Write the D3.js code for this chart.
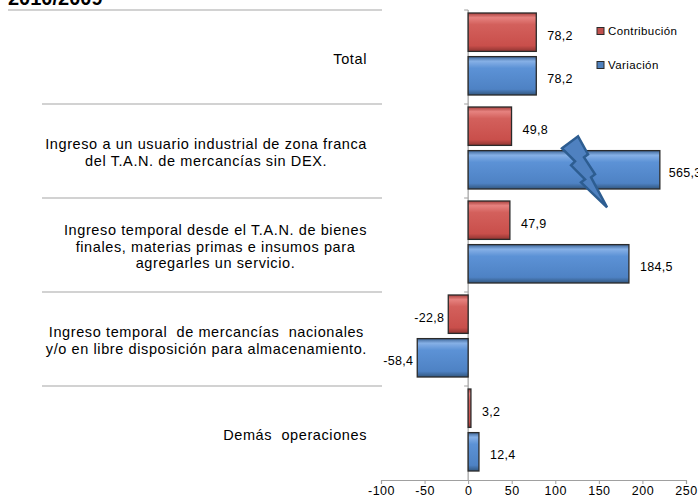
<!DOCTYPE html>
<html>
<head>
<meta charset="utf-8">
<script src="https://cdn.jsdelivr.net/npm/d3@7/dist/d3.min.js"></script>
<style>
  html, body { margin: 0; padding: 0; background: #fff; }
  svg { display: block; font-family: "Liberation Sans", Arial, sans-serif; }
  text { white-space: pre; }
</style>
</head>
<body>
<svg id="chart" width="698" height="500"></svg>
<script>
// ---- data ----
const titleText = "2010/2009";
const categoryLines = [
  ["Total"],
  ["Ingreso a un usuario industrial de zona franca", "del T.A.N. de mercancías sin DEX."],
  ["Ingreso temporal desde el T.A.N. de bienes", "finales, materias primas e insumos para", "agregarles un servicio."],
  ["Ingreso temporal  de mercancías  nacionales", "y/o en libre disposición para almacenamiento."],
  ["Demás  operaciones"]
];
const seriesNames = ["Contribución", "Variación"];
const contribucion = [78.2, 49.8, 47.9, -22.8, 3.2];
const variacion = [78.2, 565.3, 184.5, -58.4, 12.4];
const xTicks = [-100, -50, 0, 50, 100, 150, 200, 250];
const breakValue = 220;   // bars beyond this are drawn broken
const boltValue = 133;    // where the break symbol sits

// ---- layout ----
const svg = d3.select("#chart");
const x = d3.scaleLinear().domain([-100, 250]).range([381, 686]);
const cats = categoryLines.map((d, i) => i);
const y = d3.scaleBand().domain(cats).range([10, 480]).padding(0);
const ys = d3.scaleBand().domain([0, 1]).range([3, 85]).paddingInner(0.12).paddingOuter(0);
const fmt = v => d3.format(".1f")(v).replace(".", ",").replace("\u2212", "-");

const defs = svg.append("defs");
function grad(id, stops) {
  const g = defs.append("linearGradient").attr("id", id).attr("x1", 0).attr("y1", 0).attr("x2", 0).attr("y2", 1);
  stops.forEach(s => g.append("stop").attr("offset", s[0]).attr("stop-color", s[1]));
}
grad("gRed", [[0, "#a8403d"], [0.12, "#e6827f"], [0.3, "#d3605c"], [0.85, "#c94f4b"], [1, "#8f3431"]]);
grad("gBlue", [[0, "#3d6699"], [0.12, "#86b0e6"], [0.3, "#5c92d6"], [0.85, "#4e82c4"], [1, "#32577f"]]);
const fills = ["url(#gRed)", "url(#gBlue)"];
const legendFill = ["#c0504d", "#4f81bd"];

// title
svg.append("text").attr("x", 8).attr("y", 4.5)
  .attr("font-size", 20).attr("font-weight", "bold").attr("fill", "#000")
  .text(titleText);

// category separator lines
const sepY = d3.range(cats.length).map(i => y(i));
svg.append("line").attr("x1", 8).attr("x2", x(-100) + 1).attr("y1", sepY[0]).attr("y2", sepY[0])
  .attr("stroke", "#a6a6a6").attr("stroke-width", 1.2);
sepY.slice(1).forEach(yy => {
  svg.append("line").attr("x1", 42).attr("x2", x(-100) + 1).attr("y1", yy).attr("y2", yy)
    .attr("stroke", "#a6a6a6").attr("stroke-width", 1.2);
});

// x axis
const xAxis = d3.axisBottom(x).tickValues(xTicks).tickSize(4).tickFormat(d => String(d));
const gx = svg.append("g").attr("transform", "translate(0,480)").call(xAxis);
gx.select(".domain").attr("stroke", "#a0a0a0").attr("stroke-width", 1.2);
gx.selectAll(".tick line").attr("stroke", "#a0a0a0");
gx.selectAll(".tick text").attr("font-size", 12.5).attr("letter-spacing", 0.5).attr("fill", "#000")
  .attr("dy", "0.6em").attr("font-family", "Liberation Sans, Arial, sans-serif");

// vertical (category) axis at zero
svg.append("line").attr("x1", x(0)).attr("x2", x(0)).attr("y1", 10).attr("y2", 480)
  .attr("stroke", "#a0a0a0").attr("stroke-width", 1.2);
sepY.forEach(yy => {
  svg.append("line").attr("x1", x(0) - 4).attr("x2", x(0)).attr("y1", yy).attr("y2", yy)
    .attr("stroke", "#a0a0a0").attr("stroke-width", 1);
});

// bars
const series = [contribucion, variacion];
series.forEach((vals, si) => {
  const g = svg.append("g");
  g.selectAll("rect").data(vals).join("rect")
    .attr("x", d => x(Math.min(0, d)))
    .attr("width", d => Math.abs(x(Math.min(d, breakValue)) - x(0)))
    .attr("y", (d, i) => y(i) + ys(si))
    .attr("height", ys.bandwidth())
    .attr("fill", fills[si])
    .attr("stroke", "#2a2a2a").attr("stroke-width", 1.3);
  g.selectAll("text").data(vals).join("text")
    .attr("x", d => d >= 0 ? x(Math.min(d, breakValue)) + (d > breakValue ? 9 : 11) : x(d) - 4)
    .attr("y", (d, i) => y(i) + ys(si) + ys.bandwidth() / 2 + 3)
    .attr("dy", "0.35em")
    .attr("text-anchor", d => d >= 0 ? "start" : "end")
    .attr("font-size", 12.5).attr("letter-spacing", 0.3).attr("fill", "#000")
    .text(d => fmt(d));
});

// break symbol (lightning bolt) on the truncated bar
variacion.forEach((v, i) => {
  if (v <= breakValue) return;
  const cx = x(boltValue), cy = y(i) + ys(1) + ys.bandwidth() / 2 + 1.5;
  const pts = [[-22, -23], [-6, -35], [4, -17], [0, -14], [11, 3], [7, 6], [23, 36],
               [-3, 11], [1, 8], [-13, -6], [-9, -10]];
  svg.append("path")
    .attr("d", d3.line()(pts.map(p => [cx + p[0], cy + p[1]])) + "Z")
    .attr("fill", "#4f81c0").attr("stroke", "#2d5d91").attr("stroke-width", 2.5)
    .attr("stroke-linejoin", "miter");
});

// category labels: block right-aligned, lines centered within block
const labelRight = 367;
const lineH = 16.7;
categoryLines.forEach((lines, i) => {
  const g = svg.append("g");
  const texts = lines.map(l => g.append("text").attr("font-size", 14.5)
    .attr("letter-spacing", 0.6).attr("fill", "#000").text(l));
  const widths = texts.map(t => t.node().getComputedTextLength());
  const blockW = d3.max(widths);
  const cxl = labelRight - blockW / 2;
  const cy = y(i) + y.bandwidth() / 2 + 1.5;
  texts.forEach((t, k) => {
    t.attr("x", cxl).attr("text-anchor", "middle")
     .attr("y", cy + (k - (lines.length - 1) / 2) * lineH).attr("dy", "0.35em");
  });
});

// legend
seriesNames.forEach((name, i) => {
  const ly = 31 + i * 34;
  svg.append("rect").attr("x", 597).attr("y", ly - 3.5).attr("width", 7).attr("height", 7)
    .attr("fill", legendFill[i]).attr("stroke", "#2a2a2a").attr("stroke-width", 1);
  svg.append("text").attr("x", 608).attr("y", ly).attr("dy", "0.35em")
    .attr("font-size", 11.5).attr("letter-spacing", 0.4).attr("fill", "#000").text(name);
});
</script>
</body>
</html>
